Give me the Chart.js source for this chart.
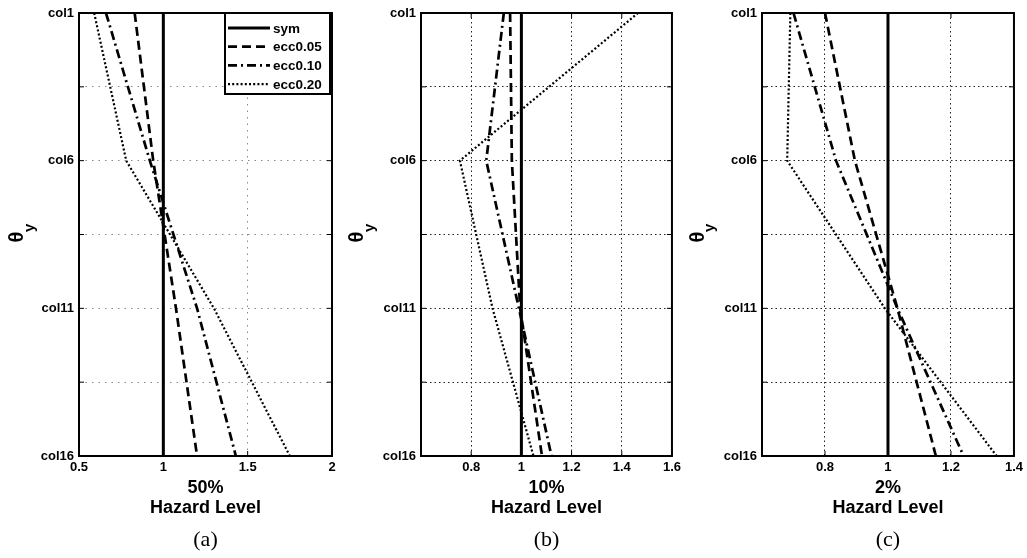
<!DOCTYPE html>
<html>
<head>
<meta charset="utf-8">
<script src="https://cdn.jsdelivr.net/npm/chart.js@4.4.1/dist/chart.umd.min.js"></script>
<style>
  body { margin: 0; background: #fff; width: 1027px; height: 558px; overflow: hidden; position: relative; }
  canvas { position: absolute; top: 0; }
</style>
</head>
<body>
<canvas id="pa" width="345" height="558" style="left:0px"></canvas>
<canvas id="pb" width="340" height="558" style="left:345px"></canvas>
<canvas id="pc" width="342" height="558" style="left:685px"></canvas>
<script>
// rows of the y axis (columns), grid every 2.5
const cols = [1, 6, 11, 16];
const yGrid = [1, 3.5, 6, 8.5, 11, 13.5, 16];
const names = ["sym", "ecc0.05", "ecc0.10", "ecc0.20"];

// (a) 50% hazard level
const symA = [1, 1, 1, 1];
const ecc05A = [0.83, 0.94, 1.075, 1.2];
const ecc10A = [0.66, 0.92, 1.2, 1.43];
const ecc20A = [0.59, 0.78, 1.3, 1.75];
const xTicksA = [0.5, 1, 1.5, 2];

// (b) 10% hazard level
const symB = [1, 1, 1, 1];
const ecc05B = [0.955, 0.962, 0.995, 1.082];
const ecc10B = [0.93, 0.86, 0.99, 1.12];
const ecc20B = [1.465, 0.755, 0.885, 1.048];
const xTicksB = [0.8, 1, 1.2, 1.4, 1.6];

// (c) 2% hazard level
const symC = [1, 1, 1, 1];
const ecc05C = [0.8, 0.895, 1.03, 1.152];
const ecc10C = [0.7, 0.835, 1.03, 1.24];
const ecc20C = [0.69, 0.68, 0.99, 1.345];
const xTicksC = [0.8, 1, 1.2, 1.4];

const styles = [
  { w: 3, dash: [] },
  { w: 2.7, dash: [9, 5] },
  { w: 2.7, dash: [9, 4, 2, 4] },
  { w: 2.2, dash: [2, 2.2] },
];
const bold = (s) => ({ family: '"Liberation Sans", Arial, sans-serif', size: s, weight: "bold" });

function panel(id, series, xMin, xMax, xTicks, plotLeft, p) {
  const datasets = series.map((vals, i) => ({
    label: names[i],
    data: vals.map((v, j) => ({ x: v, y: cols[j] })),
    showLine: true,
    borderColor: "#000",
    borderWidth: styles[i].w,
    borderDash: styles[i].dash,
    pointRadius: 0,
    tension: 0,
    fill: false,
  }));

  const decor = {
    id: "decor" + id,
    afterDatasetsDraw(chart) {
      const ctx = chart.ctx, a = chart.chartArea;
      ctx.save();
      ctx.strokeStyle = "#000";
      ctx.setLineDash([]);
      // little inward ticks like matlab
      ctx.lineWidth = 1;
      chart.scales.x.ticks.forEach((t) => {
        const x = chart.scales.x.getPixelForValue(t.value);
        ctx.beginPath();
        ctx.moveTo(x, a.bottom); ctx.lineTo(x, a.bottom - 5);
        ctx.moveTo(x, a.top); ctx.lineTo(x, a.top + 5);
        ctx.stroke();
      });
      chart.scales.y.ticks.forEach((t) => {
        const y = chart.scales.y.getPixelForValue(t.value);
        ctx.beginPath();
        ctx.moveTo(a.left, y); ctx.lineTo(a.left + 5, y);
        ctx.moveTo(a.right, y); ctx.lineTo(a.right - 5, y);
        ctx.stroke();
      });
      ctx.lineWidth = 2;
      ctx.strokeRect(a.left, a.top, a.right - a.left, a.bottom - a.top);

      if (p.legend) {
        const bx = a.right - 107, by = a.top, bw = 105, bh = 81;
        ctx.fillStyle = "#fff";
        ctx.fillRect(bx, by, bw, bh);
        ctx.lineWidth = 2;
        ctx.strokeRect(bx, by, bw, bh);
        chart.data.datasets.forEach((ds, i) => {
          const y = by + 15 + i * 18.7;
          ctx.beginPath();
          ctx.lineWidth = ds.borderWidth;
          ctx.setLineDash(ds.borderDash);
          ctx.moveTo(bx + 3, y);
          ctx.lineTo(bx + 45, y);
          ctx.stroke();
          ctx.setLineDash([]);
          ctx.fillStyle = "#000";
          ctx.font = 'bold 13.5px "Liberation Sans", Arial, sans-serif';
          ctx.textAlign = "left";
          ctx.textBaseline = "middle";
          ctx.fillText(ds.label, bx + 48, y + 1);
        });
      }
      ctx.restore();
    },
    afterDraw(chart) {
      const ctx = chart.ctx, a = chart.chartArea;
      const cx = (a.left + a.right) / 2;
      ctx.save();
      ctx.fillStyle = "#000";
      ctx.textAlign = "center";
      ctx.textBaseline = "middle";
      ctx.font = 'bold 18px "Liberation Sans", Arial, sans-serif';
      ctx.fillText(p.title, cx, 488);
      ctx.fillText("Hazard Level", cx, 508);
      ctx.font = '22px "Liberation Serif", "Times New Roman", serif';
      ctx.fillText(p.caption, cx, 540);
      // theta with subscript y, rotated
      ctx.translate(p.thetaX, 237);
      ctx.rotate(-Math.PI / 2);
      ctx.font = 'bold 20px "Liberation Sans", Arial, sans-serif';
      ctx.fillText("θ", 0, 0);
      ctx.textAlign = "left";
      ctx.textBaseline = "alphabetic";
      ctx.font = 'bold 15px "Liberation Sans", Arial, sans-serif';
      ctx.fillText("y", 5, 16);
      ctx.restore();
    },
  };

  return new Chart(id, {
    type: "scatter",
    data: { datasets: datasets },
    options: {
      responsive: false,
      animation: false,
      layout: { padding: { top: 13, right: 13, left: 0, bottom: 0 } },
      plugins: { legend: { display: false }, tooltip: { enabled: false } },
      scales: {
        x: {
          type: "linear",
          min: xMin,
          max: xMax,
          afterBuildTicks: (s) => { s.ticks = xTicks.map((v) => ({ value: v })); },
          afterFit: (s) => { s.height = 102; },
          grid: { color: p.gridColor, lineWidth: 1, drawTicks: false },
          border: { display: false, dash: p.gridDash },
          ticks: { color: "#000", font: bold(13), padding: 4, maxRotation: 0, autoSkip: false, callback: (v) => String(v) },
        },
        y: {
          type: "linear",
          min: 1,
          max: 16,
          reverse: true,
          afterBuildTicks: (s) => { s.ticks = yGrid.map((v) => ({ value: v })); },
          afterFit: (s) => { s.width = plotLeft; },
          grid: { color: p.gridColor, lineWidth: 1, drawTicks: false },
          border: { display: false, dash: p.gridDash },
          ticks: {
            color: "#000",
            font: bold(13),
            padding: 5,
            autoSkip: false,
            callback: (v) => (cols.includes(v) ? "col" + v : ""),
          },
        },
      },
    },
    plugins: [decor],
  });
}

panel("pa", [symA, ecc05A, ecc10A, ecc20A], 0.5, 2, xTicksA, 79,
  { title: "50%", caption: "(a)", thetaX: 17.5, gridColor: "#888", gridDash: [1.5, 5], legend: true });
panel("pb", [symB, ecc05B, ecc10B, ecc20B], 0.6, 1.6, xTicksB, 76,
  { title: "10%", caption: "(b)", thetaX: 12.5, gridColor: "#222", gridDash: [1.5, 3], legend: false });
panel("pc", [symC, ecc05C, ecc10C, ecc20C], 0.6, 1.4, xTicksC, 77,
  { title: "2%", caption: "(c)", thetaX: 13, gridColor: "#222", gridDash: [1.5, 3], legend: false });
</script>
</body>
</html>
